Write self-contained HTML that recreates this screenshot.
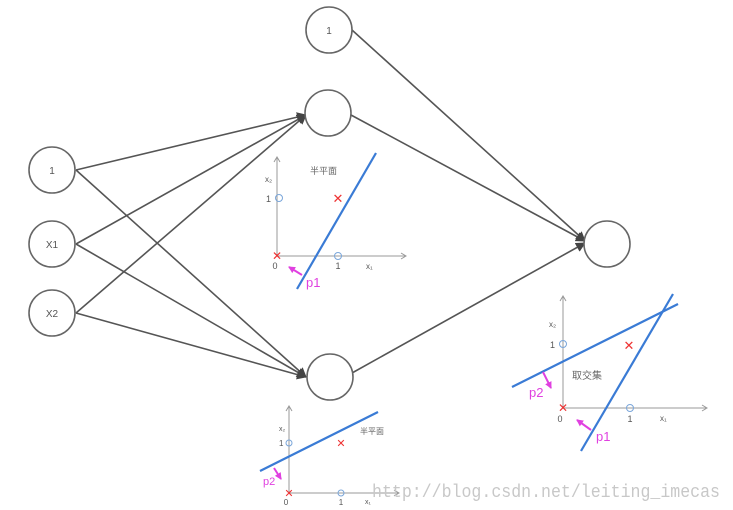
<!DOCTYPE html>
<html><head><meta charset="utf-8"><style>
body{margin:0;background:#fff;width:733px;height:510px;overflow:hidden}
svg{display:block}
.n{fill:#fff;stroke:#666;stroke-width:1.6}
.e{stroke:#555;stroke-width:1.6;fill:none}
.ax{stroke:#999;stroke-width:1;fill:none}
.bl{stroke:#3a7bd5;stroke-width:2.2}
.mg{stroke:#e040e0;stroke-width:2}
.t{font-family:"Liberation Sans",sans-serif;fill:#555}
.c{font-family:"Liberation Sans","Noto Sans CJK SC",sans-serif;fill:#666}
.p{font-family:"Liberation Sans",sans-serif;fill:#e040e0}
</style></head><body>
<svg width="733" height="510" viewBox="0 0 733 510">
<defs>
<marker id="a" markerWidth="10" markerHeight="10" refX="9" refY="5" orient="auto" markerUnits="userSpaceOnUse"><path d="M0,0 L10,5 L0,10 z" fill="#444"/></marker>
<marker id="m" markerWidth="7" markerHeight="7" refX="6" refY="3.5" orient="auto" markerUnits="userSpaceOnUse"><path d="M0,0 L7,3.5 L0,7 z" fill="#e040e0"/></marker>
</defs>
<!-- edges -->
<line class="e" x1="76" y1="170" x2="306" y2="115" marker-end="url(#a)"/>
<line class="e" x1="76" y1="244" x2="306" y2="115" marker-end="url(#a)"/>
<line class="e" x1="76" y1="313" x2="306" y2="115" marker-end="url(#a)"/>
<line class="e" x1="76" y1="170" x2="306" y2="377" marker-end="url(#a)"/>
<line class="e" x1="76" y1="244" x2="306" y2="377" marker-end="url(#a)"/>
<line class="e" x1="76" y1="313" x2="306" y2="377" marker-end="url(#a)"/>
<line class="e" x1="352" y1="30" x2="585" y2="241" marker-end="url(#a)"/>
<line class="e" x1="351" y1="115" x2="585" y2="241" marker-end="url(#a)"/>
<line class="e" x1="352" y1="373" x2="585" y2="243" marker-end="url(#a)"/>
<!-- nodes -->
<circle class="n" cx="52" cy="170" r="23"/><text class="t" x="52" y="174" font-size="10" text-anchor="middle">1</text>
<circle class="n" cx="52" cy="244" r="23"/><text class="t" x="52" y="248" font-size="10" text-anchor="middle">X1</text>
<circle class="n" cx="52" cy="313" r="23"/><text class="t" x="52" y="317" font-size="10" text-anchor="middle">X2</text>
<circle class="n" cx="329" cy="30" r="23"/><text class="t" x="329" y="34" font-size="10" text-anchor="middle">1</text>
<circle class="n" cx="328" cy="113" r="23"/>
<circle class="n" cx="330" cy="377" r="23"/>
<circle class="n" cx="607" cy="244" r="23"/>
<!-- plot 1 -->
<line class="ax" x1="277" y1="256" x2="277" y2="158"/><path d="M274,162 L277,157 L280,162" class="ax"/>
<line class="ax" x1="277" y1="256" x2="405" y2="256"/><path d="M401,253 L406,256 L401,259" class="ax"/>
<text class="t" x="265" y="182" font-size="8">x₂</text>
<text class="t" x="266" y="202" font-size="9">1</text>
<circle cx="279" cy="198" r="3.5" fill="none" stroke="#7aa6da"/>
<circle cx="338" cy="256" r="3.5" fill="none" stroke="#7aa6da"/>
<text x="338" y="203" font-size="13" fill="#e33" text-anchor="middle" font-family="Liberation Sans">✕</text>
<text x="277" y="260" font-size="12" fill="#e33" text-anchor="middle" font-family="Liberation Sans">✕</text>
<text class="t" x="275" y="269" font-size="9" text-anchor="middle">0</text>
<text class="t" x="338" y="269" font-size="9" text-anchor="middle">1</text>
<text class="t" x="366" y="269" font-size="8">x₁</text>
<text class="c" x="310" y="174" font-size="9">半平面</text>
<line class="bl" x1="297" y1="289" x2="376" y2="153"/>
<line class="mg" x1="302" y1="275" x2="289" y2="267" marker-end="url(#m)"/>
<text class="p" x="306" y="287" font-size="13">p1</text>
<!-- plot 2 -->
<line class="ax" x1="563" y1="408" x2="563" y2="297"/><path d="M560,301 L563,296 L566,301" class="ax"/>
<line class="ax" x1="563" y1="408" x2="706" y2="408"/><path d="M702,405 L707,408 L702,411" class="ax"/>
<text class="t" x="549" y="327" font-size="8">x₂</text>
<text class="t" x="550" y="348" font-size="9">1</text>
<circle cx="563" cy="344" r="3.5" fill="none" stroke="#7aa6da"/>
<circle cx="630" cy="408" r="3.5" fill="none" stroke="#7aa6da"/>
<text x="629" y="350" font-size="13" fill="#e33" text-anchor="middle" font-family="Liberation Sans">✕</text>
<text x="563" y="412" font-size="12" fill="#e33" text-anchor="middle" font-family="Liberation Sans">✕</text>
<text class="t" x="560" y="422" font-size="9" text-anchor="middle">0</text>
<text class="t" x="630" y="422" font-size="9" text-anchor="middle">1</text>
<text class="t" x="660" y="421" font-size="8">x₁</text>
<text class="c" x="572" y="379" font-size="10">取交集</text>
<line class="bl" x1="512" y1="387" x2="678" y2="304"/>
<line class="bl" x1="581" y1="451" x2="673" y2="294"/>
<line class="mg" x1="543" y1="372" x2="551" y2="388" marker-end="url(#m)"/>
<text class="p" x="529" y="397" font-size="13">p2</text>
<line class="mg" x1="591" y1="430" x2="577" y2="420" marker-end="url(#m)"/>
<text class="p" x="596" y="441" font-size="13">p1</text>
<!-- plot 3 -->
<line class="ax" x1="289" y1="493" x2="289" y2="407"/><path d="M286,411 L289,406 L292,411" class="ax"/>
<line class="ax" x1="289" y1="493" x2="398" y2="493"/><path d="M394,490 L399,493 L394,496" class="ax"/>
<text class="t" x="279" y="431" font-size="7">x₂</text>
<text class="t" x="279" y="446" font-size="8">1</text>
<circle cx="289" cy="443" r="3" fill="none" stroke="#7aa6da"/>
<circle cx="341" cy="493" r="3" fill="none" stroke="#7aa6da"/>
<text x="341" y="447" font-size="11" fill="#e33" text-anchor="middle" font-family="Liberation Sans">✕</text>
<text x="289" y="497" font-size="11" fill="#e33" text-anchor="middle" font-family="Liberation Sans">✕</text>
<text class="t" x="286" y="505" font-size="8" text-anchor="middle">0</text>
<text class="t" x="341" y="505" font-size="8" text-anchor="middle">1</text>
<text class="t" x="365" y="504" font-size="7">x₁</text>
<text class="c" x="360" y="434" font-size="8">半平面</text>
<line class="bl" x1="260" y1="471" x2="378" y2="412"/>
<line class="mg" x1="274" y1="468" x2="281" y2="479" marker-end="url(#m)"/>
<text class="p" x="263" y="485" font-size="11">p2</text>
<!-- watermark -->
<text x="372" y="497" font-size="18" fill="#c8c8c8" font-family="Liberation Mono,monospace" textLength="348" lengthAdjust="spacingAndGlyphs">http://blog.csdn.net/leiting_imecas</text>
</svg>
</body></html>
